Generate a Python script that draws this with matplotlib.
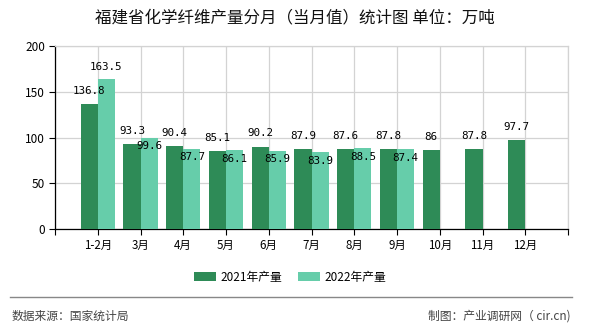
import matplotlib
matplotlib.use("Agg")
import matplotlib.pyplot as plt
from matplotlib.patches import Patch
import numpy as np

plt.rcParams['font.family'] = ['Noto Sans CJK SC', 'DejaVu Sans']

categories = ["1-2月", "3月", "4月", "5月", "6月", "7月", "8月", "9月", "10月", "11月", "12月"]
values_2021 = [136.8, 93.3, 90.4, 85.1, 90.2, 87.9, 87.6, 87.8, 86, 87.8, 97.7]
values_2022 = [163.5, 99.6, 87.7, 86.1, 85.9, 83.9, 88.5, 87.4]
series_names = ["2021年产量", "2022年产量"]
yticks = [0, 50, 100, 150, 200]

title = "福建省化学纤维产量分月（当月值）统计图 单位：万吨"
source = "数据来源：国家统计局"
credit = "制图：产业调研网（ cir.cn)"

c21 = "#2E8B57"
c22 = "#66CDAA"

fig = plt.figure(figsize=(5.9, 3.3), dpi=100)
ax = fig.add_axes([55/590, 1-229.3/330, (568-55)/590, (229.3-46)/330])

x = np.arange(len(categories))
w = 0.4
x21 = x - w/2
x22 = np.arange(len(values_2022)) + w/2
ax.bar(x21, values_2021, width=w, color=c21, zorder=3)
ax.bar(x22, values_2022, width=w, color=c22, zorder=3)

lab_kw = dict(ha='center', va='center', fontsize=7.8, family='DejaVu Sans Mono', color='#000000', zorder=5)
for xi, v in zip(x21, values_2021):
    ax.annotate(f"{v:g}", (xi, v), xytext=(0, 9.5), textcoords='offset points', **lab_kw)
for i, (xi, v) in enumerate(zip(x22, values_2022)):
    off = 9 if abs(v - values_2021[i]) > 15 else -6
    ax.annotate(f"{v:g}", (xi, v), xytext=(0, off), textcoords='offset points', **lab_kw)

ax.set_xlim(-1, len(categories))
ax.set_ylim(0, 200)
ax.set_yticks(yticks)
ax.set_yticklabels([str(t) for t in yticks], fontsize=8.5)
ax.set_xticks(np.arange(-1, len(categories) + 1))
ax.set_xticklabels([""] + categories + [""], fontsize=8.3)
ax.tick_params(axis='y', length=4, width=0.8, pad=3, color='#000000')
ax.tick_params(axis='x', length=4, width=0.8, pad=3, color='#000000')
ax.grid(True, color='#d3d3d3', linewidth=0.9, zorder=0)
for s in ['top', 'right']:
    ax.spines[s].set_color('#d3d3d3')
    ax.spines[s].set_linewidth(0.9)
ax.spines['left'].set_color('#000000')
ax.spines['bottom'].set_color('#000000')
ax.spines['left'].set_linewidth(0.9)
ax.spines['bottom'].set_linewidth(0.9)

fig.text(0.5, 1-17.5/330, title, ha='center', va='center', fontsize=11.9, color='#111111', fontweight='medium')

handles = [Patch(facecolor=c21, edgecolor='none'), Patch(facecolor=c22, edgecolor='none')]
fig.legend(handles, series_names, loc='center', bbox_to_anchor=(290/590, 1-277/330), ncol=2,
           frameon=False, fontsize=8.5, handlelength=1.86, handleheight=0.76,
           handletextpad=0.35, columnspacing=1.4)

fig.add_artist(plt.Line2D([10/590, 572/590], [1-297/330, 1-297/330], color='#888888', linewidth=1.0))
fig.text(12/590, 1-316/330, source, ha='left', va='center', fontsize=8.5, color='#444444')
fig.text(571/590, 1-316/330, credit, ha='right', va='center', fontsize=8.5, color='#444444')

fig.savefig("out.png", dpi=100)
